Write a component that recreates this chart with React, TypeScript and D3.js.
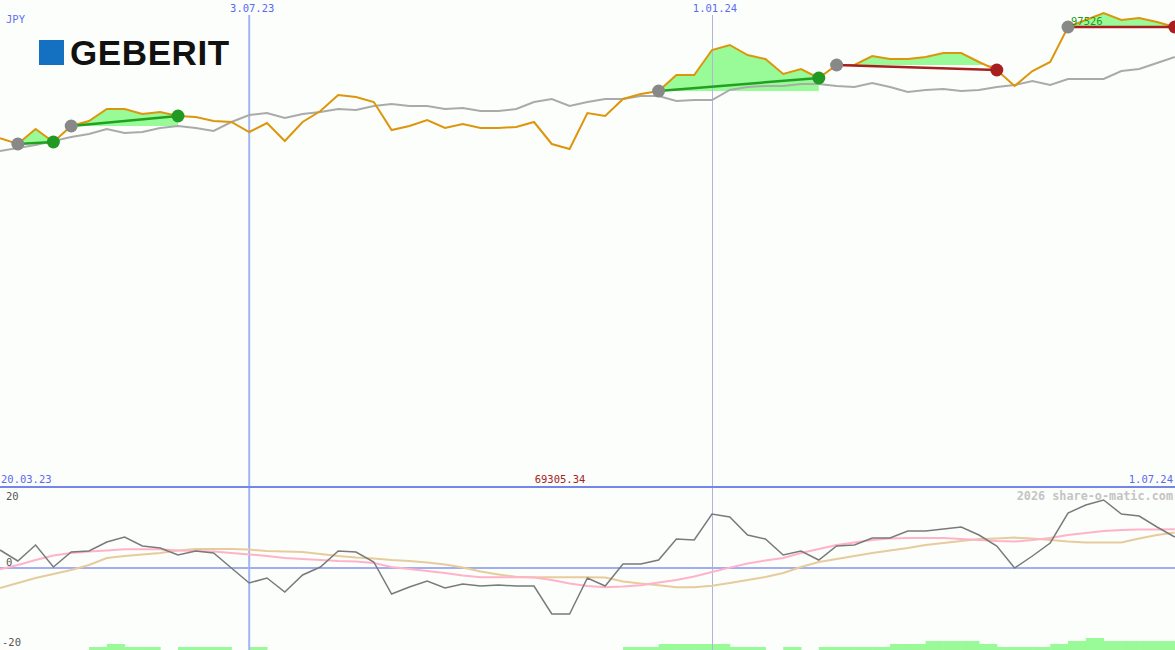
import React from 'react';
import * as d3 from 'd3';

// ---------- DATA ----------
const START = new Date(2023, 2, 27);
const dates: Date[] = d3.timeWeek.range(START, new Date(2024, 6, 2), 1).length
  ? d3.range(67).map((i) => d3.timeDay.offset(START, i * 7))
  : [];

const price = [
  90698, 90348, 91268, 90471, 91452, 91759, 92495, 92495, 92189, 92311,
  92066, 92005, 91759, 91698, 91084, 91636, 90532, 91698, 92373, 93354,
  93232, 92925, 91207, 91452, 91820, 91330, 91575, 91330, 91330, 91391,
  91698, 90348, 90041, 92250, 92066, 93109, 93416, 93600, 94581, 94581,
  96115, 96422, 95808, 95563, 94643, 94949, 94397, 95195, 95195, 95747,
  95563, 95563, 95686, 95931, 95931, 95379, 94888, 93906, 94827, 95379,
  97526, 97955, 98385, 97955, 98078, 97833, 97526,
];

const movingAvg = [
  89919, 90103, 90287, 90532, 90778, 90962, 91268, 91023, 91084, 91330,
  91452, 91330, 91146, 91698, 92127, 92250, 91943, 92189, 92311, 92495,
  92434, 92679, 92802, 92679, 92679, 92495, 92557, 92373, 92373, 92495,
  92925, 93109, 92679, 92925, 93109, 93109, 93293, 93293, 92986, 93047,
  93047, 93661, 93845, 93906, 93906, 94029, 94029, 93906, 93845, 94090,
  93845, 93538, 93661, 93722, 93600, 93661, 93845, 93968, 94213, 93968,
  94336, 94336, 94336, 94827, 94949, 95317, 95686,
];

const momentum = [
  4.5, 1.75, 5.75, 0.25, 4, 4.25, 6.5, 7.75, 5.5, 5,
  3.25, 4.25, 3.75, 0, -3.75, -2.5, -6, -1.75, 0.25, 4.25,
  4, 1.5, -6.5, -4.75, -3.25, -5, -4, -4.5, -4.25, -4.5,
  -4.5, -11.5, -11.5, -2.5, -4.5, 1, 1, 2, 7.25, 7,
  13.5, 12.75, 8.25, 7.25, 3.25, 4.25, 2, 5.5, 5.75, 7.5,
  7.5, 9.25, 9.25, 9.75, 10.25, 8.25, 5.5, 0, 3, 6.25,
  13.75, 15.75, 17, 13.5, 13, 10.25, 7.75,
];

const signalPink = [
  -0.3, 0.75, 2, 3.1, 3.75, 4.1, 4.4, 4.7, 4.7, 4.7,
  4.4, 4.25, 4.1, 3.75, 3.4, 3, 2.5, 2.25, 2, 1.75,
  1.6, 1.25, 0.25, -0.25, -0.75, -1.25, -1.9, -2.3, -2.3, -2.3,
  -2.4, -3, -3.9, -4.5, -4.8, -4.6, -4.3, -3.6, -3, -2.1,
  -1, 0.1, 1.1, 1.9, 2.5, 3.75, 4.75, 5.75, 6.4, 7,
  7.4, 7.5, 7.5, 7.5, 7.25, 7, 6.75, 6.6, 7, 7.5,
  8.25, 8.75, 9.25, 9.5, 9.6, 9.6, 9.7,
];

const signalTan = [
  -5, -3.75, -2.5, -1.5, -0.5, 0.75, 2.5, 3, 3.4, 3.75,
  4.4, 4.75, 4.75, 4.75, 4.6, 4.25, 4.1, 4, 3.5, 3,
  2.6, 2.4, 2, 1.75, 1.4, 0.9, 0.1, -0.9, -1.6, -2.2,
  -2.3, -2.3, -2.3, -2.3, -2.4, -3.4, -3.9, -4.3, -4.8, -4.8,
  -4.45, -3.75, -3, -2.25, -1.25, 0.25, 1.5, 2.25, 3, 3.75,
  4.4, 5, 5.75, 6.25, 6.75, 7.25, 7.4, 7.6, 7.4, 7,
  6.6, 6.4, 6.4, 6.4, 7.4, 8.25, 8.9,
];

const volume = [
  0, 0, 0, 0, 0, 1, 2, 1, 1, 0,
  1, 1, 1, 0, 1, 0, 0, 0, 0, 0,
  0, 0, 0, 0, 0, 0, 0, 0, 0, 0,
  0, 0, 0, 0, 0, 1, 1, 2, 2, 2,
  2, 1, 1, 0, 1, 0, 1, 1, 1, 1,
  2, 2, 3, 3, 3, 2, 1, 1, 1, 2,
  3, 4, 3, 3, 3, 3, 3,
];

const tradeEntries = [1, 4, 37, 47, 60];
const tradeExits = [3, 10, 46, 56, 66];
const tradeWins = [true, true, true, false, false];

const markerDates = [new Date(2023, 6, 3), new Date(2024, 0, 1)];
const markerLabels = ['3.07.23', '1.01.24'];
const firstDateLabel = '20.03.23';
const lastDateLabel = '1.07.24';
const priceMin = 69305.34;
const priceRef = 97526;
const currencyLabel = 'JPY';
const indTicks = [20, 0, -20];

// ---------- LAYOUT ----------
const W = 1175;
const H = 650;
const MONO = '"DejaVu Sans Mono", "Liberation Mono", monospace';

export default function App() {
  const x = d3.scaleTime().domain([dates[0], dates[dates.length - 1]]).range([0, 1174.8]);
  const y = d3.scaleLinear().domain([priceMin, priceRef]).range([487, 27]);
  const yi = d3.scaleLinear().domain([-20, 20]).range([648, 488]);
  const yv = d3.scaleLinear().domain([0, 4]).range([650, 638]);

  const line = (arr: number[], ys: d3.ScaleLinear<number, number>) =>
    d3.line<number>().x((_, i) => x(dates[i])).y((d) => ys(d))(arr) || '';

  const trades = tradeEntries.map((e, k) => ({ e, x: tradeExits[k], win: tradeWins[k] }));

  const barW = x(dates[1]) - x(dates[0]);

  return (
    <svg
      width={W}
      height={H}
      style={{ position: 'absolute', left: 0, top: 0, display: 'block' }}
      xmlns="http://www.w3.org/2000/svg"
    >
      <rect x={0} y={0} width={W} height={H} fill="#fcfefc" />
      <defs>
        {trades.map((t, k) => (
          <React.Fragment key={k}>
            <clipPath id={`above${k}`}>
              <rect x={0} y={0} width={W} height={y(price[t.e])} />
            </clipPath>
            <clipPath id={`below${k}`}>
              <rect x={0} y={y(price[t.e])} width={W} height={H} />
            </clipPath>
          </React.Fragment>
        ))}
      </defs>

      {/* trade fills */}
      {trades.map((t, k) => {
        const idx = d3.range(t.e, t.x + 1);
        const base = y(price[t.e]);
        const a =
          d3
            .area<number>()
            .x((i) => x(dates[i]))
            .y0(base)
            .y1((i) => y(price[i]))(idx) || '';
        return (
          <g key={k}>
            <path d={a} fill="#98fb98" clipPath={`url(#above${k})`} />
            <path d={a} fill="#ffb6c1" clipPath={`url(#below${k})`} />
          </g>
        );
      })}

      {/* volume bars */}
      {volume.map((v, i) =>
        v > 0 ? (
          <rect
            key={i}
            x={x(dates[i])}
            y={yv(v)}
            width={barW + 0.5}
            height={650 - yv(v)}
            fill="#98fb98"
          />
        ) : null
      )}

      {/* vertical date markers */}
      <line x1={x(markerDates[0])} x2={x(markerDates[0])} y1={15} y2={H} stroke="#a3b3f3" strokeWidth={2} />
      <line x1={Math.round(x(markerDates[1])) + 0.5} x2={Math.round(x(markerDates[1])) + 0.5} y1={15} y2={H} stroke="#b0b4dc" strokeWidth={1} />

      {/* panel divider and zero line */}
      <line x1={0} x2={W} y1={487} y2={487} stroke="#7585ea" strokeWidth={2} />
      <line x1={0} x2={W} y1={yi(0)} y2={yi(0)} stroke="#a2aef0" strokeWidth={2} />

      {/* indicator lines */}
      <path d={line(signalTan, yi)} fill="none" stroke="#e6cc9c" strokeWidth={2} />
      <path d={line(signalPink, yi)} fill="none" stroke="#ffb3c9" strokeWidth={2} />
      <path d={line(momentum, yi)} fill="none" stroke="#7a7a7a" strokeWidth={1.5} />

      {/* price chart */}
      <path d={line(movingAvg, y)} fill="none" stroke="#aaaaaa" strokeWidth={2} />
      <path d={line(price, y)} fill="none" stroke="#dc960c" strokeWidth={2} />

      {/* trade lines */}
      {trades.map((t, k) => (
        <line
          key={k}
          x1={x(dates[t.e])}
          y1={y(price[t.e])}
          x2={x(dates[t.x])}
          y2={y(price[t.x])}
          stroke={t.win ? '#22a022' : '#a81f1f'}
          strokeWidth={2.5}
        />
      ))}
      {trades.map((t, k) => (
        <g key={k}>
          <circle cx={x(dates[t.e])} cy={y(price[t.e])} r={6.5} fill="#888888" />
          <circle cx={x(dates[t.x])} cy={y(price[t.x])} r={6.5} fill={t.win ? '#229922' : '#a81f1f'} />
        </g>
      ))}
      <text
        x={x(dates[trades[4].e]) + 3}
        y={y(price[trades[4].e]) - 2}
        fontFamily={MONO}
        fontSize={10.5}
        fill="#229922"
      >
        {String(price[trades[4].e])}
      </text>

      {/* logo */}
      <rect x={39} y={40} width={25} height={25} fill="#1470c0" />
      <text x={70} y={65} fontFamily='"Liberation Sans", Arial, sans-serif' fontWeight="bold" fontSize={35} fill="#111111" letterSpacing={0.6}>
        GEBERIT
      </text>

      {/* labels */}
      <text x={6} y={23} fontFamily={MONO} fontSize={10.5} fill="#6070ee">{currencyLabel}</text>
      {markerDates.map((d, k) => (
        <text key={k} x={x(d) + 3} y={12} textAnchor="middle" fontFamily={MONO} fontSize={10.5} fill="#5a6af0">
          {markerLabels[k]}
        </text>
      ))}
      <text x={1} y={483} fontFamily={MONO} fontSize={10.5} fill="#5a6af0">{firstDateLabel}</text>
      <text x={1173} y={483} textAnchor="end" fontFamily={MONO} fontSize={10.5} fill="#5a6af0">{lastDateLabel}</text>
      <text x={560} y={483} textAnchor="middle" fontFamily={MONO} fontSize={10.5} fill="#a82222">{priceMin.toFixed(2)}</text>
      <text x={1173} y={500} textAnchor="end" fontFamily={MONO} fontSize={11.8} fontWeight="bold" fill="#c4c4c4">
        2026 share-o-matic.com
      </text>
      {indTicks.map((t) => (
        <text
          key={t}
          x={t < 0 ? 2 : 6}
          y={t === 20 ? 500 : t === 0 ? 566 : 646}
          fontFamily={MONO}
          fontSize={10.5}
          fill="#555555"
        >
          {String(t)}
        </text>
      ))}
    </svg>
  );
}
